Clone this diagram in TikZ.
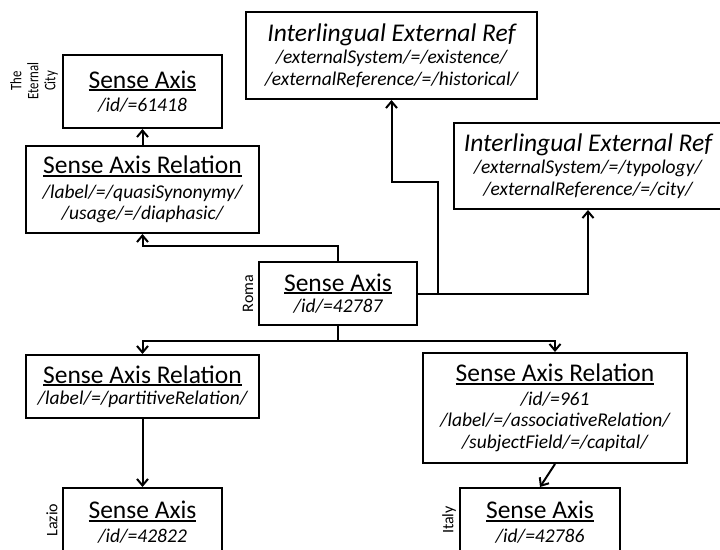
\documentclass[tikz,border=0pt]{standalone}
\usepackage{fontspec}
\setmainfont{Carlito}
\usetikzlibrary{arrows.meta}
\newcommand\ttlf{\fontsize{25.5}{27}\selectfont}
\newcommand\subf{\fontsize{19.5}{21.5}\selectfont\itshape}
\newcommand\ttl[1]{{\ttlf\upshape\setbox0=\hbox{#1}\rlap{\rule[-3.2pt]{\wd0}{2.1pt}}\box0}}
\newcommand\ittl[1]{{\ttlf\itshape #1}}
\tikzset{
  box/.style={draw, line width=2pt, inner sep=0pt, align=center, font=\subf},
  arr/.style={line width=2pt, -{Straight Barb[length=6.5pt,width=11pt,line width=2pt]}},
  side/.style={rotate=90, align=center, font=\fontsize{16}{15}\selectfont, inner sep=0pt}
}
\begin{document}
\begin{tikzpicture}[x=1pt,y=-1pt]
\useasboundingbox (0,0) rectangle (720,549);
\clip (0,0) rectangle (720,549);
\fill[white] (0,0) rectangle (720,549);

\node[box, minimum width=159pt, minimum height=73pt] (saEC) at (142.5,91.5)
  {\ttl{Sense Axis}\\[2pt] /id/=61418};
\node[box, minimum width=233pt, minimum height=87pt] (sar1) at (142.5,189.5)
  {\ttl{Sense Axis Relation}\\[3pt] /label/=/quasiSynonymy/\\ /usage/=/diaphasic/};
\node[box, minimum width=291pt, minimum height=87pt] (ier1) at (391.5,55.5)
  {\ittl{Interlingual External Ref}\\[1pt] /externalSystem/=/existence/\\ /externalReference/=/historical/};
\node[box, minimum width=268pt, minimum height=86pt] (ier2) at (588,166)
  {\ittl{Interlingual External Ref}\\[1pt] /externalSystem/=/typology/\\ /externalReference/=/city/};
\node[box, minimum width=158pt, minimum height=63pt] (roma) at (338,293.5)
  {\ttl{Sense Axis}\\ /id/=42787};
\node[box, minimum width=233pt, minimum height=63pt] (sar2) at (142.5,386.5)
  {\ttl{Sense Axis Relation}\\ /label/=/partitiveRelation/};
\node[box, minimum width=264pt, minimum height=110pt] (sar3) at (555,408)
  {\ttl{Sense Axis Relation}\\[2pt] /id/=961\\ /label/=/associativeRelation/\\ /subjectField/=/capital/};
\node[box, minimum width=159pt, minimum height=68pt] (lazio) at (142.5,522)
  {\ttl{Sense Axis}\\[2pt] /id/=42822};
\node[box, minimum width=160pt, minimum height=68pt] (italy) at (540,522)
  {\ttl{Sense Axis}\\[2pt] /id/=42786};

\node[side] (lEC) at (34,81) {\scalebox{0.8}[1]{The}\\[2pt] \scalebox{0.8}[1]{Eternal}\\[2pt] \scalebox{0.8}[1]{City}};
\node[side] (lRoma) at (248,293.5) {Roma};
\node[side] (lLazio) at (52,520) {Lazio};
\node[side] (lItaly) at (449,520) {Italy};

\draw[arr] (sar1.north) -- (saEC.south);
\draw[arr] (roma.north) -- ++(0,-15) -| (sar1.south);
\draw[arr] (roma.east) -| ++(20,-112) -| (ier1.south);
\draw[arr] (roma.east) -| (ier2.south);
\draw[arr] (roma.south) -- ++(0,14.5) -| (sar2.north);
\draw[arr] (roma.south) -- ++(0,14.5) -| (sar3.north);
\draw[arr] (sar2.south) -- (lazio.north);
\draw[arr] (sar3.south) -- (italy.north);
\end{tikzpicture}
\end{document}
